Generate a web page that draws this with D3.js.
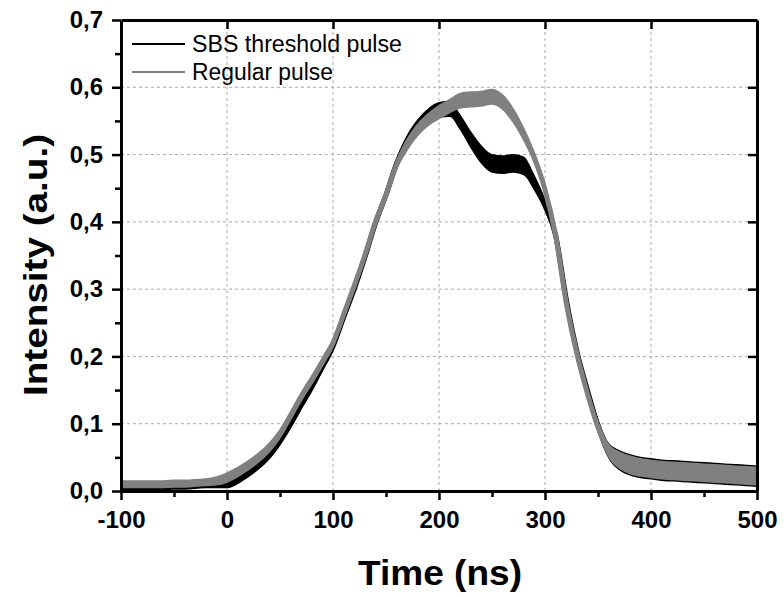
<!DOCTYPE html>
<html>
<head>
<meta charset="utf-8">
<script src="https://cdn.jsdelivr.net/npm/d3@7"></script>
<style>
  body { margin: 0; background: #fff; }
  svg { display: block; }
</style>
</head>
<body>
<div id="chart"></div>
<script>
// time axis (ns), sampled every 10 ns
var TIMES = [-100, -90, -80, -70, -60, -50, -40, -30, -20, -10,
    0, 10, 20, 30, 40, 50, 60, 70, 80, 90,
    100, 110, 120, 130, 140, 150, 160, 170, 180, 190,
    200, 210, 220, 230, 240, 250, 260, 270, 280, 290,
    300, 310, 320, 330, 340, 350, 360, 370, 380, 390,
    400, 410, 420, 430, 440, 450, 460, 470, 480, 490, 500];

// SBS threshold pulse (black)
var SBS_VALUES = [0.008, 0.008, 0.008, 0.008, 0.008, 0.009, 0.009, 0.010, 0.011, 0.012,
    0.012, 0.018, 0.028, 0.040, 0.055, 0.075, 0.100, 0.128, 0.155, 0.185,
    0.215, 0.258, 0.300, 0.347, 0.398, 0.440, 0.487, 0.520, 0.543, 0.558,
    0.566, 0.568, 0.548, 0.522, 0.500, 0.487, 0.485, 0.487, 0.483, 0.458,
    0.425, 0.380, 0.285, 0.208, 0.150, 0.097, 0.060, 0.046, 0.039, 0.035,
    0.033, 0.031, 0.030, 0.029, 0.028, 0.027, 0.026, 0.025, 0.024, 0.023, 0.022];
// half-width of the noise band of the black trace
var SBS_NOISE = [0.007, 0.007, 0.007, 0.007, 0.007, 0.007, 0.007, 0.007, 0.007, 0.008,
    0.008, 0.008, 0.008, 0.008, 0.008, 0.008, 0.008, 0.008, 0.008, 0.008,
    0.008, 0.008, 0.008, 0.008, 0.008, 0.009, 0.009, 0.010, 0.010, 0.011,
    0.012, 0.012, 0.012, 0.013, 0.014, 0.014, 0.014, 0.014, 0.014, 0.012,
    0.010, 0.010, 0.010, 0.010, 0.010, 0.011, 0.012, 0.015, 0.016, 0.016,
    0.016, 0.016, 0.016, 0.016, 0.016, 0.016, 0.016, 0.016, 0.016, 0.016, 0.016];

// Regular pulse (gray)
var REGULAR_VALUES = [0.010, 0.010, 0.010, 0.010, 0.010, 0.011, 0.011, 0.012, 0.013, 0.015,
    0.020, 0.028, 0.038, 0.050, 0.065, 0.085, 0.112, 0.140, 0.165, 0.192,
    0.220, 0.262, 0.305, 0.350, 0.400, 0.440, 0.485, 0.515, 0.537, 0.552,
    0.563, 0.572, 0.580, 0.582, 0.583, 0.586, 0.578, 0.558, 0.530, 0.495,
    0.448, 0.380, 0.280, 0.205, 0.145, 0.095, 0.060, 0.046, 0.039, 0.035,
    0.033, 0.031, 0.030, 0.029, 0.028, 0.027, 0.026, 0.025, 0.024, 0.023, 0.022];
var REGULAR_NOISE = [0.006, 0.006, 0.006, 0.006, 0.006, 0.006, 0.006, 0.006, 0.006, 0.007,
    0.008, 0.008, 0.008, 0.008, 0.008, 0.008, 0.008, 0.008, 0.008, 0.008,
    0.008, 0.008, 0.008, 0.008, 0.008, 0.009, 0.009, 0.010, 0.010, 0.010,
    0.011, 0.011, 0.012, 0.012, 0.012, 0.012, 0.012, 0.012, 0.011, 0.010,
    0.010, 0.010, 0.010, 0.010, 0.010, 0.010, 0.011, 0.013, 0.014, 0.014,
    0.014, 0.014, 0.014, 0.014, 0.014, 0.014, 0.014, 0.014, 0.014, 0.014, 0.014];

var X_TICKS = [-100, 0, 100, 200, 300, 400, 500];
var X_MINOR = [-50, 50, 150, 250, 350, 450];
var Y_TICKS = [0, 0.1, 0.2, 0.3, 0.4, 0.5, 0.6, 0.7];
var Y_MINOR = [0.05, 0.15, 0.25, 0.35, 0.45, 0.55, 0.65];

var SERIES = [
    {name: "SBS threshold pulse", values: SBS_VALUES, noise: SBS_NOISE, color: "#000000"},
    {name: "Regular pulse", values: REGULAR_VALUES, noise: REGULAR_NOISE, color: "#808080"}
];

var MARGIN = {left: 121, right: 27, top: 20, bottom: 108};
var WIDTH = 784, HEIGHT = 599;
var FONT = "'Liberation Sans', Arial, sans-serif";

const fmtComma = (d) => d3.format(".1f")(d).replace(".", ",");
const fmtInt = (d) => String(d);

const render = () => {
    let w = WIDTH - MARGIN.left - MARGIN.right;
    let h = HEIGHT - MARGIN.top - MARGIN.bottom;

    let svg = d3.select("#chart")
        .append("svg")
            .attr("width", WIDTH)
            .attr("height", HEIGHT)
        .append("g")
            .attr("transform", "translate(" + MARGIN.left + "," + MARGIN.top + ")");

    let xScale = d3.scaleLinear().domain([-100, 500]).range([0, w]);
    let yScale = d3.scaleLinear().domain([0, 0.7]).range([h, 0]);

    // grid
    let grid = svg.append("g").attr("stroke", "#aaaaaa").attr("stroke-width", 1)
        .attr("stroke-dasharray", "3,3");
    X_TICKS.slice(1, -1).forEach((t) => {
        grid.append("line")
            .attr("x1", xScale(t)).attr("x2", xScale(t))
            .attr("y1", 0).attr("y2", h);
    });
    Y_TICKS.slice(1, -1).forEach((t) => {
        grid.append("line")
            .attr("x1", 0).attr("x2", w)
            .attr("y1", yScale(t)).attr("y2", yScale(t));
    });

    // traces: noise band + thick line
    let rows = (s) => TIMES.map((t, i) => ({t: t, v: s.values[i], n: s.noise[i]}));
    SERIES.forEach((s) => {
        let data = rows(s);
        svg.append("path")
            .datum(data)
            .attr("fill", s.color)
            .attr("d", d3.area()
                .curve(d3.curveMonotoneX)
                .x((d) => xScale(d.t))
                .y0((d) => yScale(Math.max(0, d.v - d.n)))
                .y1((d) => yScale(d.v + d.n))
            );
        svg.append("path")
            .datum(data)
            .attr("fill", "none")
            .attr("stroke", s.color)
            .attr("stroke-width", 5)
            .attr("stroke-linejoin", "round")
            .attr("d", d3.line()
                .curve(d3.curveMonotoneX)
                .x((d) => xScale(d.t))
                .y((d) => yScale(d.v))
            );
    });

    // axes
    let styleAxis = (g) => {
        g.select(".domain").attr("stroke-width", 3);
        g.selectAll(".tick line").attr("stroke-width", 2.5);
        g.selectAll(".tick text")
            .attr("font-family", FONT)
            .attr("font-weight", "bold")
            .attr("font-size", 24)
            .attr("fill", "#000");
    };

    svg.append("g")
        .attr("transform", "translate(0," + h + ")")
        .call(d3.axisBottom(xScale).tickValues(X_MINOR).tickSize(6).tickFormat(""))
        .call((g) => g.select(".domain").remove())
        .call(styleAxis);
    svg.append("g")
        .attr("transform", "translate(0," + h + ")")
        .call(d3.axisBottom(xScale).tickValues(X_TICKS).tickSize(9).tickSizeOuter(0)
            .tickPadding(11).tickFormat(fmtInt))
        .call(styleAxis);

    svg.append("g")
        .call(d3.axisLeft(yScale).tickValues(Y_MINOR).tickSize(6).tickFormat(""))
        .call((g) => g.select(".domain").remove())
        .call(styleAxis);
    svg.append("g")
        .call(d3.axisLeft(yScale).tickValues(Y_TICKS).tickSize(9).tickSizeOuter(0)
            .tickPadding(9).tickFormat(fmtComma))
        .call(styleAxis);

    // mirrored top / right axes, ticks pointing inward
    svg.append("g")
        .call(d3.axisTop(xScale).tickValues(X_TICKS.slice(1, -1)).tickSize(-9).tickSizeOuter(0).tickFormat(""))
        .call(styleAxis);
    svg.append("g")
        .attr("transform", "translate(" + w + ",0)")
        .call(d3.axisRight(yScale).tickValues(Y_TICKS.slice(1, -1)).tickSize(-9).tickSizeOuter(0).tickFormat(""))
        .call(styleAxis);

    // axis titles
    svg.append("text")
        .attr("x", 440 - MARGIN.left)
        .attr("y", h + 94)
        .attr("text-anchor", "middle")
        .attr("font-family", FONT)
        .attr("font-weight", "bold")
        .attr("font-size", 35)
        .attr("textLength", 164)
        .attr("lengthAdjust", "spacingAndGlyphs")
        .text("Time (ns)");
    svg.append("text")
        .attr("transform", "translate(" + (-MARGIN.left + 47) + "," + (265 - MARGIN.top) + ") rotate(-90)")
        .attr("text-anchor", "middle")
        .attr("font-family", FONT)
        .attr("font-weight", "bold")
        .attr("font-size", 33)
        .attr("textLength", 262)
        .attr("lengthAdjust", "spacingAndGlyphs")
        .text("Intensity (a.u.)");

    // legend
    let legend = svg.append("g").attr("transform", "translate(11,24)");
    SERIES.forEach((s, i) => {
        let row = legend.append("g").attr("transform", "translate(0," + (i * 28) + ")");
        row.append("line")
            .attr("x1", 0).attr("x2", 53)
            .attr("y1", 0).attr("y2", 0)
            .attr("stroke", s.color)
            .attr("stroke-width", 2);
        row.append("text")
            .attr("x", 60)
            .attr("y", 8)
            .attr("font-family", FONT)
            .attr("font-size", 23)
            .attr("textLength", s.name === "Regular pulse" ? 141 : 210)
            .attr("lengthAdjust", "spacingAndGlyphs")
            .attr("fill", "#000")
            .text(s.name);
    });
}

render();
</script>
</body>
</html>
